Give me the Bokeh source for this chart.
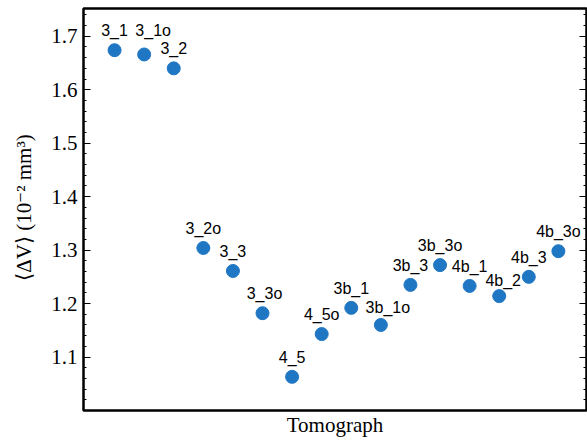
from bokeh.plotting import figure
from bokeh.models import ColumnDataSource, FixedTicker, LinearAxis, Range1d, Title, CustomJSTickFormatter
from bokeh.core.properties import value
from bokeh.embed import file_html
from bokeh.resources import INLINE

labels = ["3_1", "3_1o", "3_2", "3_2o", "3_3", "3_3o", "4_5", "4_5o",
          "3b_1", "3b_1o", "3b_3", "3b_3o", "4b_1", "4b_2", "4b_3", "4b_3o"]
mean_dv = [1.674, 1.666, 1.640, 1.304, 1.261, 1.182, 1.063, 1.143,
           1.192, 1.160, 1.235, 1.272, 1.233, 1.214, 1.250, 1.298]
y_ticks = [1.1, 1.2, 1.3, 1.4, 1.5, 1.6, 1.7]

# label nudges (screen pixels), to keep neighbouring labels apart
label_dx = [0, 9, 0, 0, 0, 2, 0, 0, 0, 7, 0, 0, 0, 4, 0, 0]
label_dy = [-11, -15, -11, -11, -11, -11, -11, -11, -11, -9, -11, -11, -11, -7, -11, -11]

idx = list(range(len(labels)))
src = ColumnDataSource(dict(x=idx, y=mean_dv, lab=labels, dx=label_dx, dy=label_dy))

minor = [round(1.0 + 0.02 * i, 2) for i in range(0, 38)]
ticker = FixedTicker(ticks=y_ticks, minor_ticks=minor)

p = figure(width=587, height=442, output_backend="svg", toolbar_location=None,
           x_range=Range1d(-1.05, 15.95), y_range=Range1d(1.0, 1.752),
           x_axis_location=None,
           min_border_left=83, min_border_right=1, min_border_top=8, min_border_bottom=32)

p.grid.visible = False
p.outline_line_color = "black"
p.outline_line_width = 2.5

p.scatter("x", "y", source=src, size=13, color="#1f77c4", line_color="#1f77c4")
p.text("x", "y", text="lab", source=src, text_align="center", text_baseline="bottom",
       x_offset="dx", y_offset="dy", text_font=value("Liberation Sans"), text_font_size="16px",
       text_color="black")

# y axis
ya = p.yaxis[0]
ya.ticker = ticker
ya.major_tick_in = 7
ya.major_tick_out = 0
ya.minor_tick_in = 3
ya.minor_tick_out = 0
ya.axis_line_color = None
ya.major_label_standoff = 6
ya.major_label_text_font = "Liberation Serif"
ya.major_label_text_font_size = "21px"
ya.major_label_text_color = "black"
ya.axis_label = "⟨ΔV⟩ (10⁻² mm³)"
ya.axis_label_text_font = "Liberation Serif"
ya.axis_label_text_font_style = "normal"
ya.axis_label_text_font_size = "21px"
ya.axis_label_text_color = "black"
ya.axis_label_standoff = 12

ra = LinearAxis(ticker=ticker, major_tick_in=7, major_tick_out=0,
                minor_tick_in=3, minor_tick_out=0, axis_line_color=None,
                formatter=CustomJSTickFormatter(code="return ''"),
                major_label_standoff=0)
p.add_layout(ra, "right")

p.add_layout(Title(text="Tomograph", align="center", text_font="Liberation Serif",
                   text_font_size="21px", text_font_style="normal", text_color="black",
                   standoff=0, offset=0), "below")

open("out.html", "w").write(file_html(p, INLINE))
